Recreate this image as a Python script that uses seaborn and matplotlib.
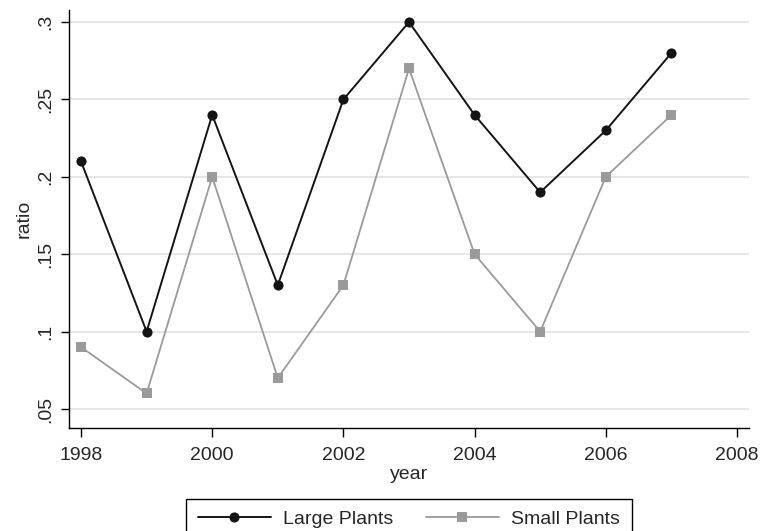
import pandas as pd
import matplotlib
matplotlib.use("Agg")
import matplotlib.pyplot as plt
from matplotlib.patches import Rectangle
import seaborn as sns

# data
years = [1998, 1999, 2000, 2001, 2002, 2003, 2004, 2005, 2006, 2007]
large = [0.21, 0.10, 0.24, 0.13, 0.25, 0.30, 0.24, 0.19, 0.23, 0.28]
small = [0.09, 0.06, 0.20, 0.07, 0.13, 0.27, 0.15, 0.10, 0.20, 0.24]
series = ["Large Plants", "Small Plants"]
xticks = [1998, 2000, 2002, 2004, 2006, 2008]
yticks = [0.05, 0.10, 0.15, 0.20, 0.25, 0.30]
ytick_labels = [".05", ".1", ".15", ".2", ".25", ".3"]

df = pd.DataFrame({
    "year": years * 2,
    "ratio": large + small,
    "plant": [series[0]] * len(years) + [series[1]] * len(years),
})

sns.set_theme(style="white")
plt.rcParams["font.family"] = ["Liberation Sans", "DejaVu Sans"]
BLACK, GRAY = "#141414", "#9a9a9a"
FS = 14

fig = plt.figure(figsize=(7.6, 5.31), dpi=100)
ax = fig.add_axes([69 / 760, 1 - 428 / 531, 680 / 760, 418 / 531])

for y in yticks:
    ax.axhline(y, color="#e2e2e2", lw=1.2, zorder=0)

sns.lineplot(data=df, x="year", y="ratio", hue="plant", style="plant",
             palette={series[0]: BLACK, series[1]: GRAY},
             markers={series[0]: "o", series[1]: "s"}, dashes=False,
             markersize=7.3, markeredgewidth=0, lw=1.4, ax=ax, legend=False)
ax.lines[-1].set_markersize(7)
ax.lines[-1].set_linewidth(1.3)

ax.set_xlim(1997.817, 2008.183)
ax.set_ylim(0.0377, 0.3078)
ax.set_xticks(xticks)
ax.set_yticks(yticks)
ax.set_yticklabels(ytick_labels, rotation=90, va="center")
ax.tick_params(axis="x", direction="out", length=6.5, width=1, color="black",
               labelsize=FS, pad=7.5, bottom=True)
ax.tick_params(axis="y", direction="out", length=5.8, width=1, color="black",
               labelsize=FS, pad=4.5, left=True)
ax.set_xlabel("year", fontsize=FS, labelpad=1)
ax.set_ylabel("ratio", fontsize=FS, labelpad=4)

for side in ["top", "right"]:
    ax.spines[side].set_visible(False)
for side in ["left", "bottom"]:
    ax.spines[side].set_color("black")
    ax.spines[side].set_linewidth(1)

handles = [
    plt.Line2D([], [], color=BLACK, lw=1.4, marker="o", markersize=7.3, markeredgewidth=0),
    plt.Line2D([], [], color=GRAY, lw=1.3, marker="s", markersize=7, markeredgewidth=0),
]
leg = ax.legend(handles, series, loc="upper center", ncol=2,
                bbox_to_anchor=(409 / 760, 1 - 499 / 531), bbox_transform=fig.transFigure,
                fontsize=FS, frameon=False, handlelength=3.75,
                handletextpad=0.65, columnspacing=1.65, borderpad=0.6, borderaxespad=0)

# legend box runs off the bottom of the figure, as in the original
fig.canvas.draw()
bb = leg.get_window_extent().transformed(fig.transFigure.inverted())
fig.patches.append(Rectangle((bb.x0, bb.y0 - 0.05), bb.width, bb.height + 0.05,
                             transform=fig.transFigure, fill=False,
                             edgecolor="black", lw=1, clip_on=False))

fig.savefig("out.png", dpi=100)
